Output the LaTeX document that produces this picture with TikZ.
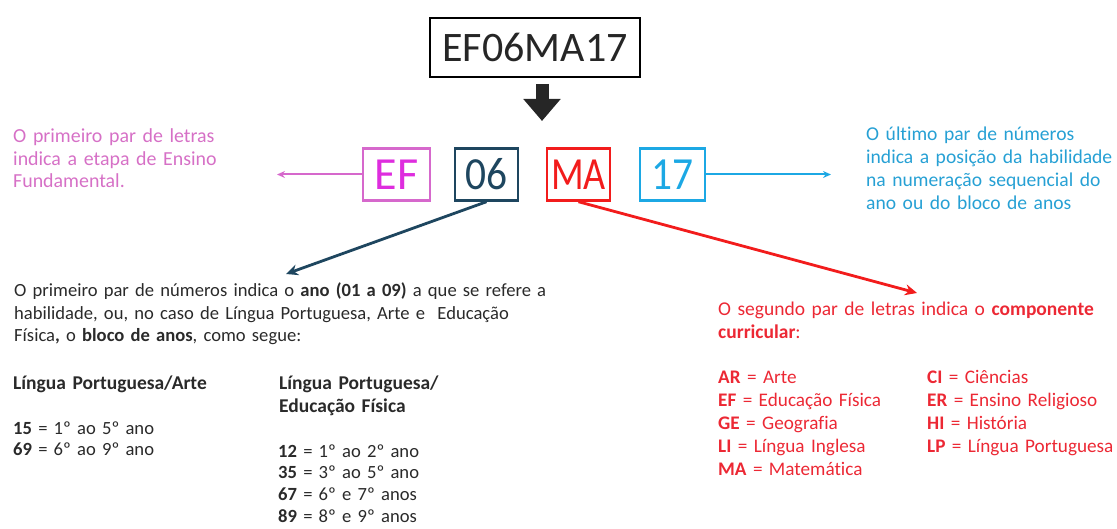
\documentclass[tikz,border=0pt]{standalone}
\usepackage{fontspec}
\setmainfont[Ligatures={NoCommon}]{Carlito}
\usetikzlibrary{arrows.meta}
\definecolor{pinkT}{RGB}{214,112,198}
\definecolor{pinkB}{RGB}{214,104,204}
\definecolor{magT}{RGB}{222,45,222}
\definecolor{navy}{RGB}{30,70,95}
\definecolor{redB}{RGB}{242,28,28}
\definecolor{redT}{RGB}{236,40,52}
\definecolor{cyanB}{RGB}{28,168,228}
\definecolor{cyanT}{RGB}{38,160,212}
\definecolor{bodyT}{RGB}{42,42,42}
\begin{document}
\begin{tikzpicture}[x=1pt,y=-1pt,
  codebox/.style={draw, line width=2.5pt, minimum height=52pt, inner sep=0pt,
    font=\fontsize{46}{46}\selectfont},
  txt/.style={anchor=base west, inner sep=0pt, align=left, text width=#1},
  thinarrow/.style={line width=2pt, -{Stealth[length=8pt,width=7pt]}},
  thickarrow/.style={line width=2.8pt, -{Stealth[length=12pt,width=11pt]}}
]
\useasboundingbox (0,0) rectangle (1117,529);

% main code
\node[draw, line width=1.2pt, minimum width=210pt, minimum height=59pt,
  font=\fontsize{42}{42}\selectfont, text=black!85] (code) at (535,47.5) {EF06MA17};
\coordinate (bs) at (542,84);
\coordinate (be) at (542,121);
\draw[black!85, line width=13pt, -{Triangle[length=22pt,width=36pt]}] (bs) -- (be);

% code parts
\node[codebox, draw=pinkB, text=magT, minimum width=67pt] (ef) at (396.5,174.5) {EF};
\node[codebox, draw=navy, text=navy, minimum width=63pt] (n06) at (486.5,174.5) {\scalebox{0.9}[1]{06}};
\node[codebox, draw=redB, text=redB, minimum width=63pt] (ma) at (578.5,174.5) {\scalebox{0.83}[1]{MA}};
\node[codebox, draw=cyanB, text=cyanB, minimum width=65pt] (n17) at (672.5,174.5) {\scalebox{0.9}[1]{17}};

% explanations
\node[txt=260pt, text=pinkT, font=\fontsize{19.9}{22.5}\selectfont] (pinktxt) at (13,143)
  {O primeiro par de letras\\indica a etapa de Ensino\\Fundamental.};
\node[txt=260pt, text=cyanT, font=\fontsize{19.6}{22.7}\selectfont] (cyantxt) at (866,141)
  {O último par de números\\indica a posição da habilidade\\na numeração sequencial do\\ano ou do bloco de anos};
\node[txt=600pt, text=bodyT, font=\fontsize{18.6}{22.5}\selectfont] (para) at (14,297)
  {O primeiro par de números indica o \textbf{ano (01 a 09)} a que se refere a\\
   habilidade, ou, no caso de Língua Portuguesa, Arte e\ \ Educação\\
   Física\textbf{,} o \textbf{bloco de anos}, como segue:};
\node[txt=260pt, text=bodyT, font=\fontsize{19.5}{22}\selectfont] (lpa) at (13,390) {\textbf{Língua Portuguesa/Arte}};
\node[txt=260pt, text=bodyT, font=\fontsize{18.6}{21.5}\selectfont] (lpalist) at (13,434)
  {\textbf{15} = 1º ao 5º ano\\\textbf{69} = 6º ao 9º ano};
\node[txt=260pt, text=bodyT, font=\fontsize{19.5}{22}\selectfont] (lpef) at (279,390)
  {\textbf{Língua Portuguesa/}\\\textbf{Educação Física}};
\node[txt=260pt, text=bodyT, font=\fontsize{18.6}{21.7}\selectfont] (lpeflist) at (278,457)
  {\textbf{12} = 1º ao 2º ano\\\textbf{35} = 3º ao 5º ano\\\textbf{67} = 6º e 7º anos\\\textbf{89} = 8º e 9º anos};
\node[txt=420pt, text=redT, font=\fontsize{19.5}{23}\selectfont] (redtxt) at (718,316)
  {O segundo par de letras indica o \textbf{componente}\\\textbf{curricular}:};
\node[txt=230pt, text=redT, font=\fontsize{19.2}{23}\selectfont] (redl) at (718,384)
  {\textbf{AR} = Arte\\\textbf{EF} = Educação Física\\\textbf{GE} = Geografia\\\textbf{LI} = Língua Inglesa\\\textbf{MA} = Matemática};
\node[txt=220pt, text=redT, font=\fontsize{19.2}{23}\selectfont] (redr) at (927,384)
  {\textbf{CI} = Ciências\\\textbf{ER} = Ensino Religioso\\\textbf{HI} = História\\\textbf{LP} = Língua Portuguesa};

% connectors
\coordinate (pinkend) at (277,174.5);
\coordinate (cyanend) at (831,174.5);
\coordinate (navyend) at (286,274);
\coordinate (redend) at (917,293);
\draw[thinarrow, pinkB] (ef.west) -- (pinkend);
\draw[thinarrow, cyanB] (n17.east) -- (cyanend);
\draw[thickarrow, navy] (n06.south) -- (navyend);
\draw[thickarrow, redB] (ma.south) -- (redend);
\end{tikzpicture}
\end{document}
